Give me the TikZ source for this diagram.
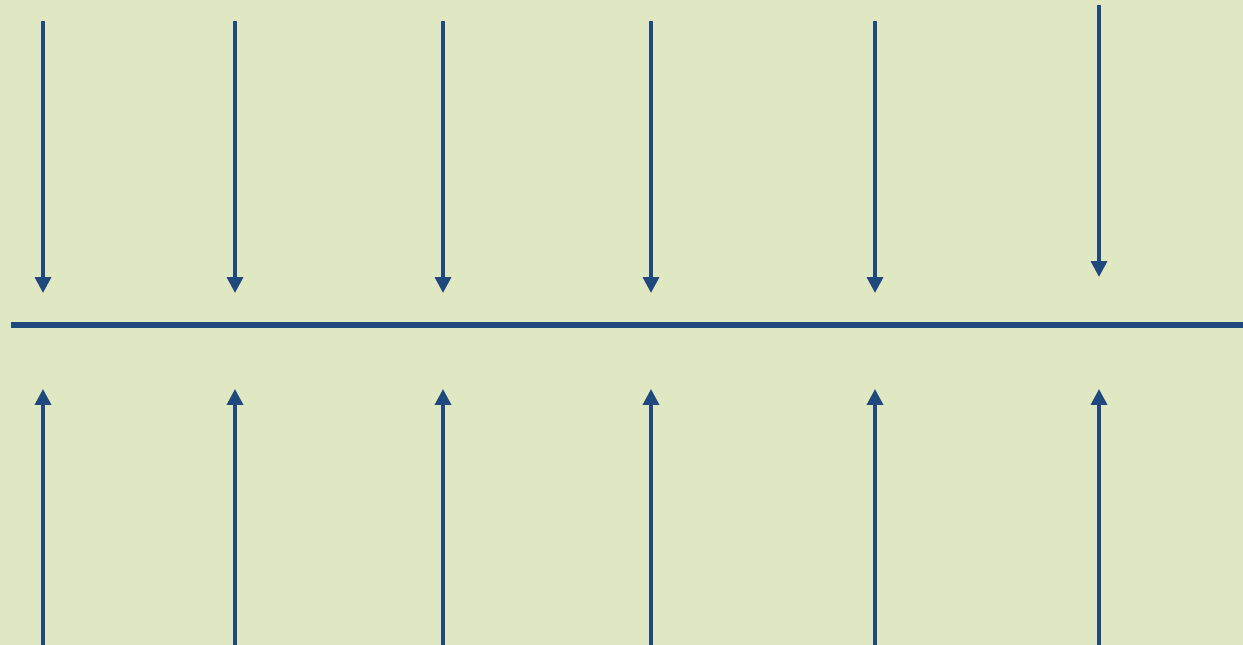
\documentclass[tikz,border=0pt]{standalone}
\usepackage{tikz}
\usetikzlibrary{arrows.meta}
\definecolor{paper}{HTML}{DFE7C3}
\definecolor{flux}{HTML}{1F497D}

\begin{document}
\begin{tikzpicture}[x=0.02cm, y=-0.02cm,
  ar/.style={flux, line width=2pt, -{Triangle[length=9pt, width=9pt]}},
  wall/.style={flux, line width=3.4pt}]
  \fill[paper] (0,0) rectangle (1243,645);
  \useasboundingbox (0,0) rectangle (1243,645);
  % the plane in the middle
  \coordinate (wl) at (11,325);
  \coordinate (wr) at (1243,325);
  \draw[wall] (wl) -- (wr);
  % arrows from above and below
  \foreach \x/\t/\h [count=\i] in {43/21/293, 235/21/293, 443/21/293, 651/21/293, 875/21/293, 1099/5/277} {
    \coordinate (top\i) at (\x,\t);
    \coordinate (toptip\i) at (\x,\h);
    \coordinate (bot\i) at (\x,645);
    \coordinate (bottip\i) at (\x,389);
    \draw[ar] (top\i) -- (toptip\i);
    \draw[ar] (bot\i) -- (bottip\i);
  }
\end{tikzpicture}
\end{document}
